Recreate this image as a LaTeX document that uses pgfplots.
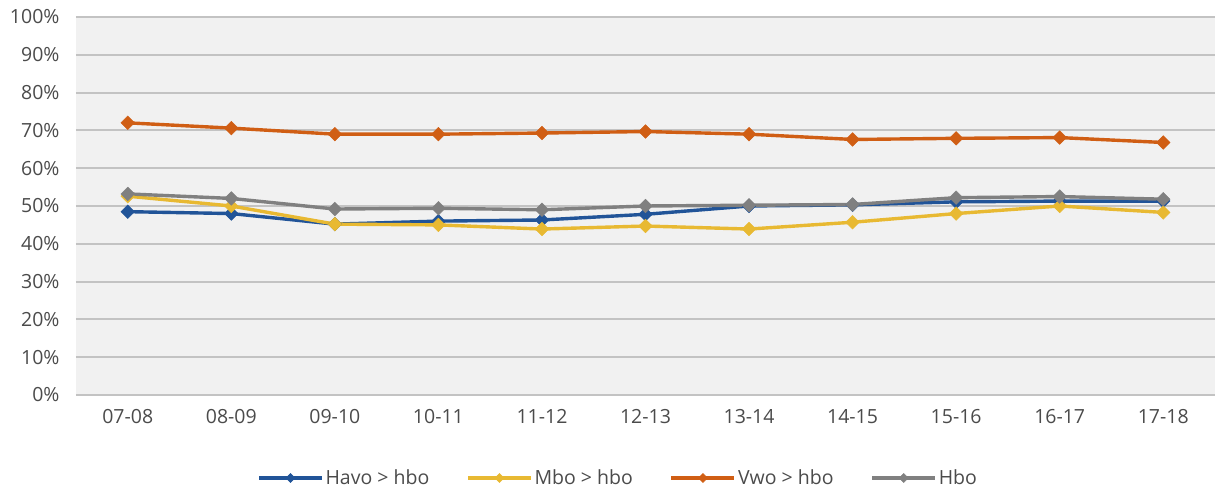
\documentclass[border=0pt]{standalone}
\usepackage{pgfplots}
\pgfplotsset{compat=1.18}
\usepackage{fontspec}
\setmainfont{Open Sans}
\definecolor{cblue}{RGB}{33,84,152}
\definecolor{cyellow}{RGB}{232,185,50}
\definecolor{corange}{RGB}{208,94,20}
\definecolor{cgray}{RGB}{128,128,128}
\definecolor{cbg}{RGB}{241,241,241}
\definecolor{cgrid}{RGB}{195,195,195}
\definecolor{ctext}{RGB}{75,75,75}
\begin{document}
\begin{tikzpicture}[x=1pt,y=1pt]
\path[use as bounding box] (-76,-97) rectangle (1141,395);
\begin{axis}[
  at={(0,0)}, anchor=south west,
  scale only axis, width=1139pt, height=378pt,
  xmin=-0.5, xmax=10.5, ymin=0, ymax=100,
  axis background/.style={fill=cbg},
  axis line style={draw=none},
  xtick={0,...,10},
  xticklabels={07-08,08-09,09-10,10-11,11-12,12-13,13-14,14-15,15-16,16-17,17-18},
  ytick={0,10,...,100},
  yticklabels={0\%,10\%,20\%,30\%,40\%,50\%,60\%,70\%,80\%,90\%,100\%},
  major tick length=0pt,
  ymajorgrids, grid style={draw=cgrid, line width=2pt},
  tick label style={font=\fontsize{19.5}{22}\selectfont, text=ctext},
  y tick label style={xshift=-13pt},
  x tick label style={yshift=-11pt},
  legend columns=4,
  legend style={at={(0.476,0)}, anchor=center, yshift=-83pt, draw=none, fill=none,
    font=\fontsize{19.5}{22}\selectfont, text=ctext,
    /tikz/every even column/.append style={column sep=35pt},
    nodes={inner sep=2pt}},
  legend image code/.code={\draw[#1, line width=3.2pt, mark size=3.2pt, mark repeat=2, mark phase=2] plot coordinates {(0pt,0pt)(31.5pt,0pt)(63pt,0pt)};},
  every axis plot/.append style={line width=3.4pt, mark=square*, mark size=4.8pt, mark options={rotate=45, solid, line width=0.5pt}},
]
\addplot[color=cblue, line width=3.4pt] coordinates {(0,48.5)(1,48.0)(2,45.2)(3,46.0)(4,46.3)(5,47.8)(6,50.0)(7,50.3)(8,51.1)(9,51.3)(10,51.3)};
\addlegendentry{Havo > hbo}
\addplot[color=cyellow, line width=3.4pt] coordinates {(0,52.6)(1,50.0)(2,45.2)(3,45.0)(4,43.9)(5,44.7)(6,43.9)(7,45.7)(8,48.0)(9,50.0)(10,48.3)};
\addlegendentry{Mbo > hbo}
\addplot[color=corange, line width=3.4pt] coordinates {(0,72.0)(1,70.6)(2,69.0)(3,69.0)(4,69.3)(5,69.7)(6,69.0)(7,67.6)(8,67.9)(9,68.1)(10,66.8)};
\addlegendentry{Vwo > hbo}
\addplot[color=cgray, line width=3.4pt] coordinates {(0,53.2)(1,52.0)(2,49.2)(3,49.4)(4,49.0)(5,50.0)(6,50.2)(7,50.4)(8,52.2)(9,52.5)(10,51.8)};
\addlegendentry{Hbo}
\end{axis}
\end{tikzpicture}
\end{document}
